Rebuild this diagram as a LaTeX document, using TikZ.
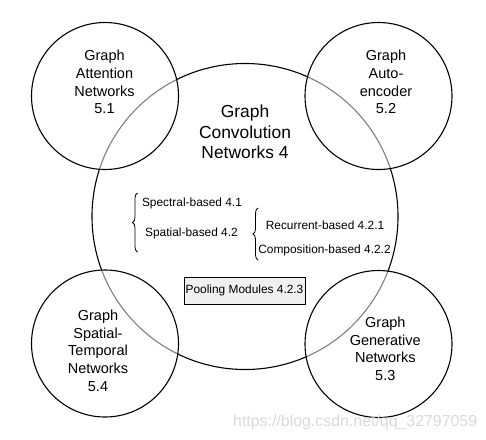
\documentclass[tikz,border=0pt]{standalone}
\usepackage{fontspec}
\setmainfont{Liberation Sans}
\usetikzlibrary{decorations.pathreplacing}

\begin{document}
\begin{tikzpicture}[x=1pt,y=-1pt,
      bigcircle/.style={
         circle,
         draw=black,
         line width=1.1pt,
         inner sep=0pt,
         minimum size=306pt},
      smallcircle/.style={
         circle,
         draw=black,
         line width=1.1pt,
         fill=white,
         fill opacity=0.5,
         text opacity=1,
         inner sep=0pt,
         minimum size=147pt},
      circletext/.style={align=center,inner sep=0pt,font=\fontsize{14.5}{17.7}\selectfont},
      itemtext/.style={anchor=base,inner sep=0pt,font=\fontsize{11.9}{14}\selectfont},
      mybrace/.style={decorate,decoration={brace,amplitude=5pt},line width=0.8pt}
      ]
      \useasboundingbox (0,0) rectangle (486,439);
      \node[bigcircle] (gcn) at (245,216.5) {};
    \foreach \n/\x/\y in {% name/x/y
      gat/105/96,
      gae/378.5/96,
      gstn/105/343.5,
      ggn/378.5/344}
       \node[smallcircle] (\n) at (\x,\y) {};

      \node[circletext,font=\fontsize{17.4}{20.5}\selectfont] (gcn-text) at (245,132) {Graph\\Convolution\\Networks 4};
      \node[circletext] (gat-text) at (104.5,82) {Graph\\Attention\\Networks\\5.1};
      \node[circletext] (gae-text) at (386,82) {Graph\\Auto-\\encoder\\5.2};
      \node[circletext] (gstn-text) at (98,350.7) {Graph\\Spatial-\\Temporal\\Networks\\5.4};
      \node[circletext] (ggn-text) at (385.3,348.7) {Graph\\Generative\\Networks\\5.3};

      \node[itemtext] (spectral) at (192,206.5) {Spectral-based 4.1};
      \node[itemtext] (spatial) at (191.5,236.5) {Spatial-based 4.2};
      \node[itemtext] (recurrent) at (325,229.5) {Recurrent-based 4.2.1};
      \node[itemtext] (composition) at (324.5,253.5) {Composition-based 4.2.2};
      \draw[mybrace] (137.5,252) -- (137.5,193);
      \draw[mybrace] (258,260) -- (258,208);

      \node[draw=black,fill=gray!12,line width=0.9pt,minimum width=121pt,minimum height=27pt,
            inner sep=1pt,font=\fontsize{11.9}{14}\selectfont] (pooling) at (244.5,290.5) {Pooling Modules 4.2.3};

      \node[anchor=base west,inner sep=0pt,text=gray!30,font=\fontsize{15.9}{18}\selectfont]
            (watermark) at (233,426) {https://blog.csdn.net/qq\_32797059};
     \end{tikzpicture}
\end{document}
